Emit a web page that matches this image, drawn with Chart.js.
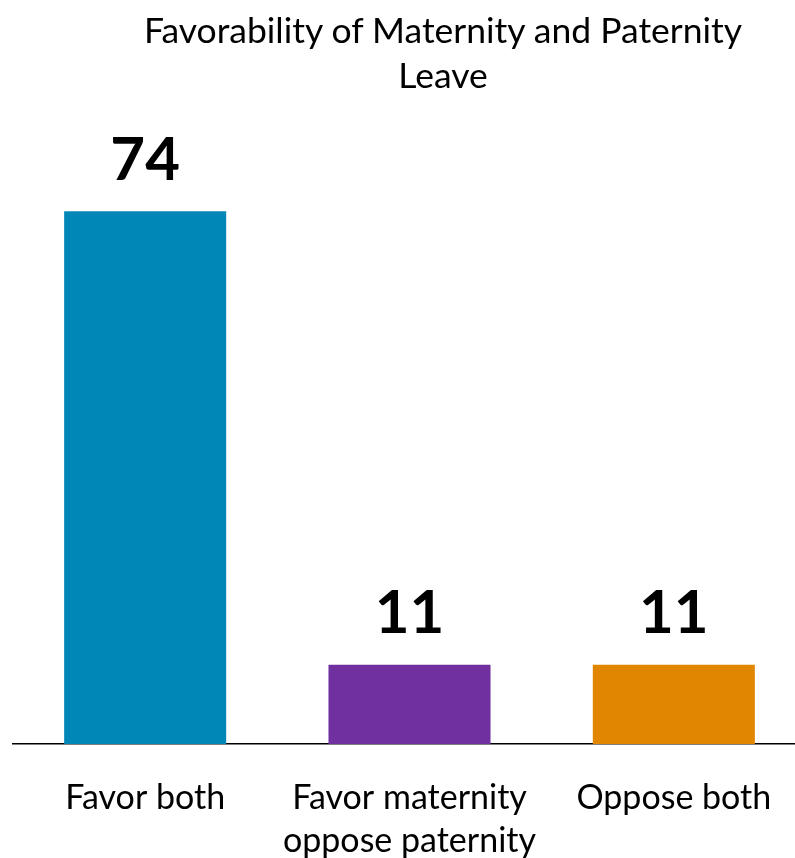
<!DOCTYPE html>
<html>
<head>
<meta charset="utf-8">
<script src="https://cdn.jsdelivr.net/npm/chart.js@4/dist/chart.umd.min.js"></script>
<style>
  html, body { margin: 0; padding: 0; overflow: hidden; background: #fff; width: 795px; height: 858px; }
  #wrap { position: absolute; left: 0; top: 0; width: 806px; height: 858px; }
  #title { position: absolute; left: 93px; width: 700px; top: 7px; text-align: center;
           font-family: Lato, "Open Sans", sans-serif; font-size: 35.5px; line-height: 45px; color: #000; }
</style>
</head>
<body>
<div id="wrap">
  <canvas id="c" width="806" height="858"></canvas>
</div>
<div id="title">Favorability of Maternity and Paternity<br>Leave</div>
<script>
const categories = [["Favor both"], ["Favor maternity", "oppose paternity"], ["Oppose both"]];
const values = [74, 11, 11];
const barColors = ["#0087B7", "#7030A0", "#E08600"];

const valueLabels = {
  id: 'valueLabels',
  afterDatasetsDraw(chart) {
    const ctx = chart.ctx;
    const meta = chart.getDatasetMeta(0);
    ctx.save();
    ctx.font = 'bold 60px Lato, "Open Sans", sans-serif';
    ctx.fillStyle = '#000';
    ctx.textAlign = 'center';
    ctx.textBaseline = 'middle';
    meta.data.forEach((bar, i) => {
      ctx.fillText(String(values[i]), bar.x, bar.y - 51);
    });
    ctx.restore();
  }
};

new Chart(document.getElementById('c'), {
  type: 'bar',
  data: {
    labels: categories,
    datasets: [{
      data: values,
      backgroundColor: barColors,
      borderWidth: 0,
      categoryPercentage: 1,
      barPercentage: 0.613
    }]
  },
  options: {
    responsive: false,
    animation: false,
    layout: { padding: { left: 13, right: 0, top: 24, bottom: 0 } },
    plugins: { legend: { display: false }, tooltip: { enabled: false }, title: { display: false } },
    scales: {
      x: {
        grid: { display: false },
        border: { display: true, color: '#000', width: 1.5 },
        ticks: {
          color: '#000',
          padding: 25,
          maxRotation: 0,
          autoSkip: false,
          font: { family: 'Lato, "Open Sans", sans-serif', size: 34, lineHeight: 1.265 }
        },
        afterFit(scale) { scale.height = 114; }
      },
      y: {
        display: false,
        min: 0,
        max: 100
      }
    }
  },
  plugins: [valueLabels]
});
</script>
</body>
</html>
